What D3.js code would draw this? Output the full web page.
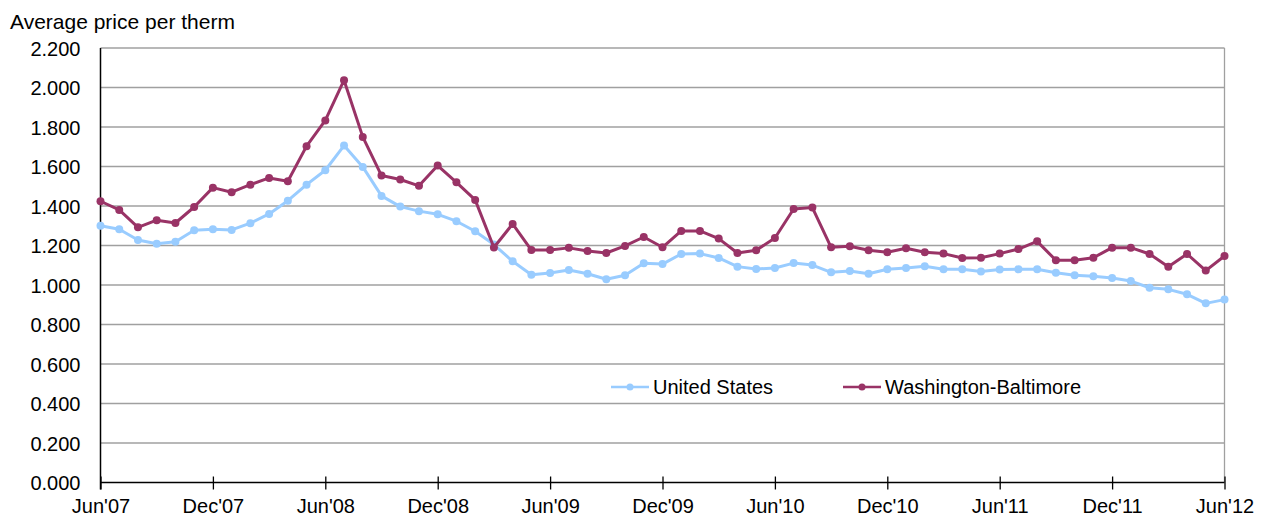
<!DOCTYPE html>
<html>
<head>
<meta charset="utf-8">
<script src="https://cdn.jsdelivr.net/npm/d3@7"></script>
<style>
  body { margin: 0; background: #fff; }
  svg text { font-family: "Liberation Sans", Arial, sans-serif; fill: #000; }
</style>
</head>
<body>
<script>
// monthly data, Jun'07 .. Jun'12
var tickLabels = ["Jun'07", "Dec'07", "Jun'08", "Dec'08", "Jun'09", "Dec'09", "Jun'10", "Dec'10", "Jun'11", "Dec'11", "Jun'12"];
var yTicks = [0, 0.2, 0.4, 0.6, 0.8, 1.0, 1.2, 1.4, 1.6, 1.8, 2.0, 2.2];
var seriesNames = ["United States", "Washington-Baltimore"];
var colors = ["#99ccff", "#993366"];

var usValues = [1.300, 1.282, 1.228, 1.209, 1.219, 1.277, 1.282, 1.279, 1.313, 1.360,
                1.427, 1.508, 1.581, 1.706, 1.598, 1.451, 1.397, 1.374, 1.358, 1.323,
                1.272, 1.205, 1.120, 1.052, 1.061, 1.076, 1.057, 1.029, 1.049, 1.110,
                1.106, 1.157, 1.159, 1.137, 1.093, 1.081, 1.086, 1.111, 1.101, 1.064,
                1.071, 1.057, 1.080, 1.086, 1.095, 1.080, 1.080, 1.068, 1.078, 1.080,
                1.080, 1.062, 1.049, 1.044, 1.035, 1.020, 0.986, 0.978, 0.953, 0.907,
                0.926];
var wbValues = [1.424, 1.380, 1.292, 1.328, 1.314, 1.395, 1.493, 1.470, 1.508, 1.542,
                1.525, 1.703, 1.833, 2.037, 1.750, 1.554, 1.534, 1.502, 1.605, 1.520,
                1.431, 1.190, 1.309, 1.177, 1.177, 1.188, 1.172, 1.162, 1.198, 1.243,
                1.191, 1.274, 1.274, 1.235, 1.162, 1.176, 1.238, 1.385, 1.392, 1.191,
                1.196, 1.176, 1.166, 1.186, 1.166, 1.159, 1.137, 1.138, 1.159, 1.182,
                1.221, 1.125, 1.125, 1.138, 1.189, 1.189, 1.157, 1.093, 1.157, 1.073,
                1.147];

var width = 1263, height = 518;
var plotLeft = 100.5, plotRight = 1224.5, plotTop = 48, plotBottom = 482.5;

var svg = d3.select("body").append("svg")
    .attr("width", width)
    .attr("height", height);

var x = d3.scaleLinear().domain([0, usValues.length - 1]).range([plotLeft, plotRight]);
var y = d3.scaleLinear().domain([0, 2.2]).range([plotBottom, plotTop]);

// gridlines
svg.append("g").selectAll("line")
   .data(yTicks.slice(1))
   .join("line")
   .attr("x1", plotLeft).attr("x2", plotRight)
   .attr("y1", d => y(d)).attr("y2", d => y(d))
   .attr("stroke", "#a0a0a0")
   .attr("stroke-width", 1.3);

// right border
svg.append("line")
   .attr("x1", plotRight).attr("x2", plotRight)
   .attr("y1", plotTop).attr("y2", plotBottom)
   .attr("stroke", "#a0a0a0")
   .attr("stroke-width", 1.3);

// y axis
var yAxis = d3.axisLeft(y).tickValues(yTicks).tickSize(0).tickPadding(20)
    .tickFormat(d3.format(".3f"));
var gy = svg.append("g").attr("transform", "translate(" + plotLeft + ",0)").call(yAxis);
gy.select(".domain").attr("stroke", "#000").attr("stroke-width", 1.5).attr("d", "M0," + plotTop + "V" + (plotBottom + 7));
gy.selectAll("text").style("font-size", "20px").attr("dy", "0.35em");

// x axis
var xTickVals = tickLabels.map((d, i) => i * 6);
var xAxis = d3.axisBottom(x).tickValues(xTickVals).tickSize(7).tickPadding(9)
    .tickFormat((d, i) => tickLabels[i]);
var gx = svg.append("g").attr("transform", "translate(0," + plotBottom + ")").call(xAxis);
gx.select(".domain").attr("stroke", "#000").attr("stroke-width", 1.5).attr("d", "M" + plotLeft + ",0H" + plotRight);
gx.selectAll(".tick line").attr("stroke", "#000").attr("stroke-width", 1.3).attr("y1", -6);
gx.selectAll("text").style("font-size", "20px").attr("dy", "0.71em");

// title
svg.append("text")
   .attr("x", 10).attr("y", 29)
   .style("font-size", "21px")
   .text("Average price per therm");

// series
var allSeries = [usValues, wbValues];
var line = d3.line().x((d, i) => x(i)).y(d => y(d));

allSeries.forEach(function(vals, k) {
  svg.append("path")
     .datum(vals)
     .attr("fill", "none")
     .attr("stroke", colors[k])
     .attr("stroke-width", 3)
     .attr("stroke-linejoin", "round")
     .attr("d", line);
  svg.append("g").selectAll("circle")
     .data(vals)
     .join("circle")
     .attr("cx", (d, i) => x(i))
     .attr("cy", d => y(d))
     .attr("r", 4)
     .attr("fill", colors[k]);
});

// legend
var legendX = [611, 843], legendY = 387;
seriesNames.forEach(function(name, k) {
  var g = svg.append("g").attr("transform", "translate(" + legendX[k] + "," + legendY + ")");
  g.append("line").attr("x1", 0).attr("x2", 38).attr("y1", 0).attr("y2", 0)
   .attr("stroke", colors[k]).attr("stroke-width", 2.5);
  g.append("circle").attr("cx", 19).attr("cy", 0).attr("r", 3.5).attr("fill", colors[k]);
  g.append("text").attr("x", 42).attr("y", 7).style("font-size", "20px").text(name);
});
</script>
</body>
</html>
